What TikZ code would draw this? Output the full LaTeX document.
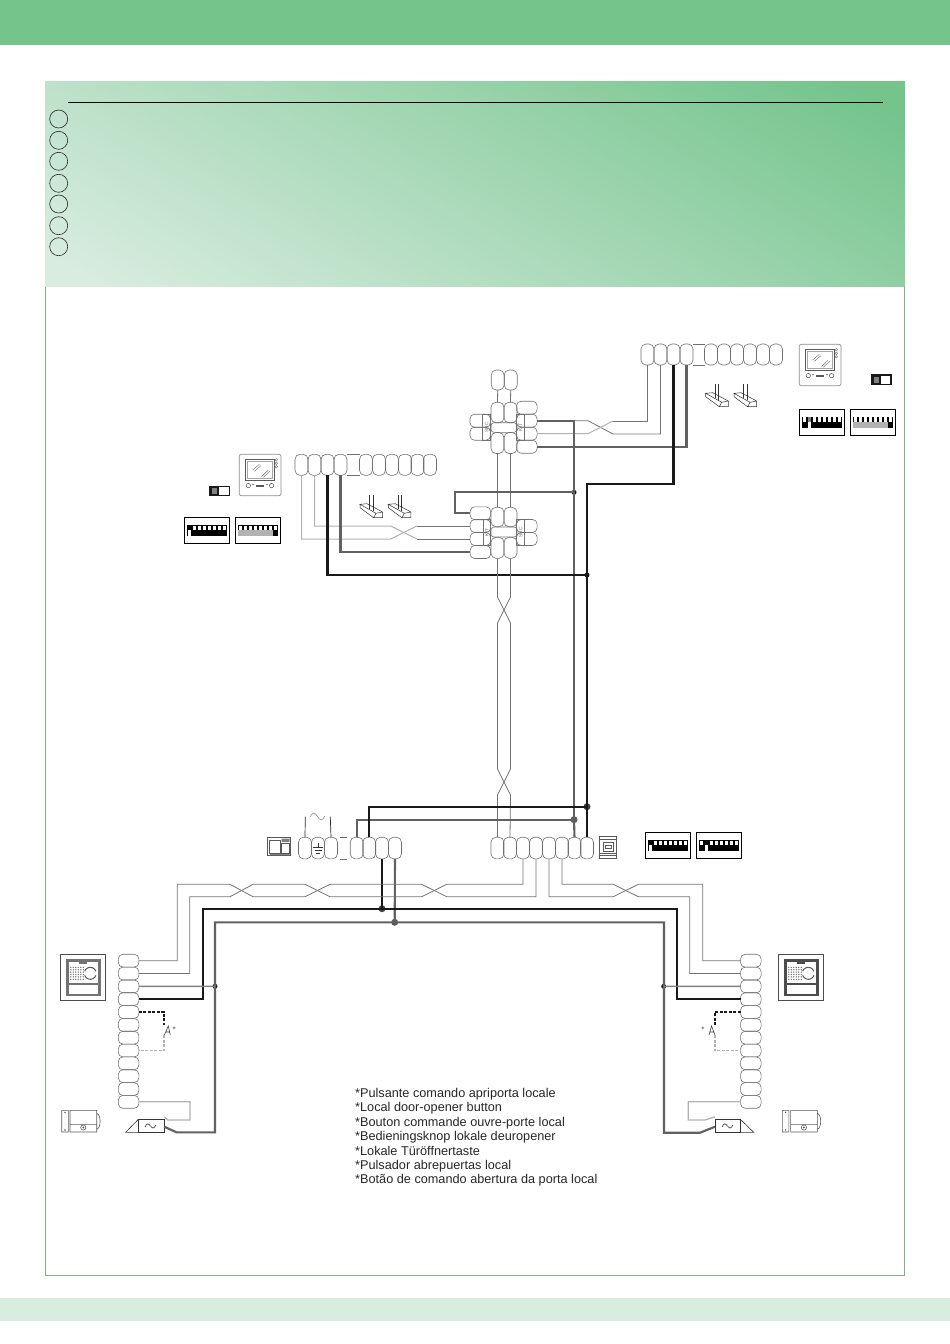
\documentclass[tikz,border=0pt]{standalone}
\usepackage{fontspec}
\setmainfont{Liberation Sans}
\usepackage{tikz}
\definecolor{bandgreen}{HTML}{74C48C}
\definecolor{palegreen}{HTML}{D8ECE0}
\definecolor{framegreen}{HTML}{7FAE90}
\definecolor{clampgray}{HTML}{707070}
\pgfdeclarehorizontalshading{headershade}{100bp}{color(0bp)=(palegreen); color(19bp)=(palegreen); color(81bp)=(bandgreen); color(100bp)=(bandgreen)}
\tikzset{
  clamp/.style={draw=clampgray,rounded corners=5pt,minimum width=13pt,minimum height=21pt,
    inner sep=0pt,outer sep=0pt,line width=.6pt},
  hclamp/.style={clamp,rounded corners=4.5pt,minimum width=20.5pt,minimum height=13pt},
  tag/.style={draw=clampgray,line width=.5pt,inner sep=0pt,outer sep=0pt,minimum width=8pt,
    minimum height=26pt,text=clampgray,font=\fontsize{5}{5}\selectfont},
  wirethin/.style={draw=black!55,line width=.8pt},
  wirelight/.style={draw=black!30,line width=1pt},
  wiremid/.style={draw=black!50,line width=1.4pt},
  wiregray/.style={draw=black!62,line width=2.1pt},
  wireblack/.style={draw=black!90,line width=2.2pt},
  wdot/.style={circle,fill=black!90,inner sep=0pt,outer sep=0pt,minimum size=5pt},
  bigdot/.style={wdot,minimum size=7pt,fill=black!75},
  monitor/.pic={
    \draw[black!45,line width=.7pt,rounded corners=2pt] (0,0) rectangle (41.7,41.4);
    \draw[black!65,line width=.7pt] (5.7,5) rectangle (34.7,25.7);
    \draw[black!35,line width=.5pt] (7.5,7) rectangle (32.9,23.7);
    \draw[black!60,line width=.4pt] (13.3,15.7) -- (20,10) (15,17) -- (21.7,11.3)
      (22.3,22.3) -- (29,15.7) (24,23) -- (30.7,17);
    \foreach \dy in {5.5,9,12.5} \draw[black!60,line width=.4pt] (37,\dy) circle (1.3);
    \draw[black!70,line width=.5pt] (9,31.3) circle (2.2) (32.3,31.3) circle (2.2);
    \fill[black!65] (16.5,30.2) rectangle (25,32.8);
    \fill[black!65] (13.7,30.3) circle (.8) (27.7,30.3) circle (.8);
  },
  jumper/.pic={
    \draw[black!80,line width=.5pt] (0,0) -- (7,-.6) -- (22.6,7.7) -- (16,9) -- cycle
      (0,0) -- (0,3.4) -- (13.6,13.4) -- (22.6,13.4) -- (22.6,7.7) (16,9) -- (13.6,13.4);
    \draw[black!80,line width=.5pt] (9.6,-9.3) -- (9.6,4.7) (13,-9.3) -- (13,6.7);
  },
  slidesw/.pic={
    \fill[black!90] (0,0) rectangle (20.5,10.7);
    \fill[white] (10,1.4) rectangle (19.2,9.3);
    \fill[black!50] (3,2.4) rectangle (8,8.3);
  },
  pics/dipbank/.style={code={
    \draw[black,line width=.9pt] (0,0) rectangle (45.5,26.6);
    \foreach \b [count=\i from 0] in {#1} {
      \pgfmathsetmacro\xs{2.8+5*\i}
      \ifcase\b \def\ct{white}\def\cb{black}\def\bi{0}
      \or \def\ct{black}\def\cb{white}\def\bi{.8}
      \or \def\ct{white}\def\cb{black!30}\def\bi{0}
      \or \def\ct{black!50}\def\cb{white}\def\bi{.8}\fi
      \fill[black] (\xs,7.7) rectangle +(5,11);
      \fill[\ct] (\xs+.7,8.3) rectangle (\xs+4.3,13.2);
      \fill[\cb] (\xs+\bi,13.2) rectangle (\xs+5-\bi,18.7);
    }
  }},
  pics/intercom/.style={code={
    \draw[black!70,line width=.7pt] (0,0) rectangle (45.4,46.4);
    \fill[#1] (5.4,4.6) rectangle (40.6,41.4);
    \fill[white] (8.5,7.8) rectangle (37.5,28.8);
    \fill[white] (8.5,30.2) rectangle (37.5,39.4);
    \fill[#1] (18.5,5) rectangle (26.5,9.5);
    \foreach \gx in {10.5,13,15.5,18,20.5,23} \foreach \gy in {13,15.4,17.8,20.2,22.6,25}
      \fill[black!55] (\gx,\gy) circle (.75);
    \draw[black!65,line width=1pt] (30,19) ++(200:6) arc (200:340:6);
    \draw[black!65,line width=1pt] (30,19) ++(20:6) arc (20:160:6);
  }},
  strike/.pic={
    \draw[black!65,line width=.6pt] (0,0) rectangle (6.6,21.7) (8.3,0) rectangle (35,21.7)
      (8.3,14) -- (35,14) (35,3) .. controls (39.5,4) and (39.5,18) .. (35,19);
    \draw[black!65,line width=.6pt] (21.6,17.2) circle (2.6);
    \fill[black!70] (3.3,2) circle (.8) (3.3,19.7) circle (.8) (21.6,17.2) circle (1);
  },
}
\begin{document}
\begin{tikzpicture}[x=1pt,y=-1pt]
  \useasboundingbox (0,0) rectangle (950,1344);
  % page furniture
  \fill[bandgreen] (0,0) rectangle (950,45);
  \fill[palegreen] (0,1298) rectangle (950,1321);
  \draw[framegreen,line width=.8pt] (45,286) rectangle (904.6,1275.5);
  \shade[shading=headershade,shading angle=60] (45,81) rectangle (905,286);
  \coordinate (ruleL) at (68,102.5);
  \coordinate (ruleR) at (883,102.5);
  \draw[black,line width=.9pt] (ruleL) -- (ruleR);
  \foreach \n/\y in {1/119,2/140.3,3/161.3,4/183.3,5/204,6/225.7,7/246.7}
    \node[circle,draw=black!85,line width=.6pt,minimum size=18pt,inner sep=0pt] (num\n) at (58.7,\y) {};
  %
  % upper flat terminal strip
  \foreach \n/\x in {1/647.5,2/660.5,3/673.5,4/686.5,5/711,6/724,7/737,8/750,9/763,10/776}
    \node[clamp] (rt\n) at (\x,354.5) {};
  \draw[clampgray,line width=.5pt] (rt4.north east) -- (rt5.north west) (rt4.south east) -- (rt5.south west);
  % lower flat terminal strip
  \foreach \n/\x in {1/301.5,2/314.5,3/327.5,4/340.5,5/366,6/379,7/392,8/405,9/417.5,10/430}
    \node[clamp] (lt\n) at (\x,464.8) {};
  \draw[clampgray,line width=.5pt] (lt4.north east) -- (lt5.north west) (lt4.south east) -- (lt5.south west);
  %
  % upper distributor
  \node[clamp,minimum height=20pt] (tp1) at (497.7,380) {};
  \node[clamp,minimum height=20pt] (tp2) at (510.7,380) {};
  \node[clamp,minimum height=20.5pt] (mt1) at (497.5,412.5) {};
  \node[clamp,minimum height=20.5pt] (mt2) at (510.5,412.5) {};
  \node[clamp] (mb1) at (497.5,443) {};
  \node[clamp] (mb2) at (510.5,443) {};
  \node[clamp,minimum width=26pt,minimum height=9.6pt,rounded corners=3pt] (mm) at (504,427.5) {};
  \foreach \n/\y in {1/407.7,2/420.7,3/433.7,4/446.7}
    \node[hclamp] (kr\n) at (526.8,\y) {};
  \foreach \n/\y in {1/420.7,2/433.7}
    \node[hclamp] (sl\n) at (480.2,\y) {};
  \node[tag,minimum width=7.4pt] (kitt) at (520.4,427.2) {\rotatebox{90}{KIT}};
  \node[tag] (sbct) at (486.7,427.2) {\rotatebox{90}{SBC}};
  %
  % lower distributor
  \node[clamp,minimum height=19.5pt] (nt1) at (497.5,517) {};
  \node[clamp,minimum height=19.5pt] (nt2) at (510.5,517) {};
  \node[clamp] (nb1) at (497.5,547.8) {};
  \node[clamp] (nb2) at (510.5,547.8) {};
  \node[clamp,minimum width=26pt,minimum height=10pt,rounded corners=3pt] (nm) at (504,532) {};
  \foreach \n/\y in {1/513.3,2/526,3/539,4/552}
    \node[hclamp] (kb\n) at (480.4,\y) {};
  \foreach \n/\y in {1/526,2/539}
    \node[hclamp] (sr\n) at (526.8,\y) {};
  \node[tag,minimum width=7.4pt] (kittb) at (486.8,532.4) {\rotatebox{90}{KIT}};
  \node[tag] (sbctb) at (520.6,532.4) {\rotatebox{90}{SBC}};
  %
  % base terminal strips
  \foreach \n/\x in {1/305,2/318,3/331,4/356.7,5/369.2,6/382,7/395}
    \node[clamp,minimum height=21.6pt] (lb\n) at (\x,848) {};
  \foreach \n/\x in {1/497.5,2/510,3/523,4/536,5/549,6/562,7/574.5,8/587}
    \node[clamp,minimum height=21.6pt] (rb\n) at (\x,848) {};
  \draw[clampgray,line width=.5pt] (340,837.2) -- (347,837.2) (340,858.8) -- (347,858.8);
  \coordinate (acL) at (305.3,816.7);
  \coordinate (acR) at (330.3,816.7);
  \draw[black!85,line width=.7pt] (lb1.north) -- (acL) (lb3.north) -- (acR);
  \draw[black!50,line width=.5pt] (310,817) sin (313.7,813) cos (317.5,816.5) sin (321.2,820) cos (325,816);
  % earth
  \draw[black!80,line width=.5pt] (318,843) -- (318,847) (313,847) -- (323,847) (314.5,850) -- (321.5,850) (316,852.8) -- (320,852.8);
  %
  % door panel terminals
  \foreach \n in {1,...,12} {
    \pgfmathsetmacro\yy{960.7+12.83*(\n-1)}
    \node[hclamp,minimum height=12.83pt] (lc\n) at (128.6,\yy) {};
    \node[hclamp,minimum height=12.83pt] (rc\n) at (750.8,\yy) {};
  }
  %
  % joints
  \node[wdot] (d1) at (574,492.3) {};
  \node[wdot] (d2) at (587,575) {};
  \node[bigdot] (d3) at (587,806.7) {};
  \node[bigdot,fill=black!65] (d4) at (574,819.7) {};
  \node[bigdot] (d5) at (382,908.7) {};
  \node[bigdot,fill=black!65] (d6) at (394.7,922.3) {};
  \node[wdot] (d7) at (215,986.3) {};
  \node[wdot] (d8) at (663.7,986.3) {};
  %
  % door lock boxes
  \node[draw=black!80,line width=.6pt,minimum width=26pt,minimum height=13pt,inner sep=0pt,outer sep=0pt] (lk1) at (151.3,1125.8) {};
  \node[draw=black!80,line width=.6pt,minimum width=25.3pt,minimum height=13pt,inner sep=0pt,outer sep=0pt] (lk2) at (727.7,1125.8) {};
  \draw[black!80,line width=.6pt] (lk1.north west) -- (125.7,1132.3) -- (lk1.south west);
  \draw[black!80,line width=.6pt] (lk2.north east) -- (753.7,1132.3) -- (lk2.south east);
  \draw[black!80,line width=.6pt] (145,1127) sin (147.7,1123.8) cos (150.5,1126) sin (153.2,1128) cos (156,1125);
  \draw[black!80,line width=.6pt] (722,1127) sin (724.7,1123.8) cos (727.5,1126) sin (730.2,1128) cos (733,1125);
  %
  % wires, upper level
  \draw[wirethin] (tp1.south) -- (mt1.north) (tp2.south) -- (mt2.north);
  \draw[wirethin] (mb1.south) -- (nt1.north) (mb2.south) -- (nt2.north);
  \draw[wirethin] (kr2.east) -- (588,420.7) -- (613,434) -| (rt2.south);
  \draw[wirelight] (kr3.east) -- (588,433.7) -- (613,421);
  \draw[wirethin] (613,421) -| (rt1.south);
  \draw[wiregray] (kr4.east) -| (rt4.south);
  \draw[wiregray] (kr2.east) -| (d4.center);
  \draw[wiregray] (d4.center) -- (rb7.north);
  \draw[wireblack] (rt3.south) |- (587,484.3) -- (d3.center);
  \draw[wireblack] (d3.center) -- (rb8.north);
  \draw[wiregray] (d1.center) -| (455,513.3) -- (kb1.west);
  %
  % wires, lower level
  \draw[wirelight] (lt1.south) |- (390.7,539) -- (416.7,526);
  \draw[wirethin] (416.7,526) -- (kb2.west);
  \draw[wirelight] (lt2.south) |- (390.7,526) -- (416.7,539);
  \draw[wirethin] (416.7,539) -- (kb3.west);
  \draw[wiregray] (lt4.south) |- (kb4.west);
  \draw[wireblack] (lt3.south) |- (d2.center);
  %
  % riser
  \draw[wirethin] (nb1.south) -- (497.5,597) -- (510.5,623) -- (510.5,769) -- (497.5,795) -- (rb1.north);
  \draw[wirethin] (nb2.south) -- (510.5,597) -- (497.5,623) -- (497.5,769) -- (510.5,795) -- (rb2.north);
  %
  % base to riser
  \draw[wiregray] (lb4.north) |- (d4.center);
  \draw[wireblack] (lb5.north) |- (d3.center);
  \draw[wireblack] (lb6.south) -- (d5.center);
  \draw[wiregray] (lb7.south) -- (d6.center);
  %
  % base to door panels
  \draw[wirethin] (rb3.south) |- (446.7,884.3) -- (421.7,896.7) -- (330,896.7) -- (305,884.3) -- (253,884.3) -- (230,896.7) -- (189.7,896.7) |- (lc2.east);
  \draw[wirethin] (rb4.south) |- (446.7,896.7) -- (421.7,884.3) -- (330,884.3) -- (305,896.7) -- (253,896.7) -- (230,884.3) -- (177.3,884.3) |- (lc1.east);
  \draw[wirethin] (rb5.south) |- (613.3,896.7) -- (638.3,884.3) -- (702.7,884.3) |- (rc1.west);
  \draw[wirethin] (rb6.south) |- (613.3,884.3) -- (638.3,896.7) -- (689.7,896.7) |- (rc2.west);
  \draw[wireblack] (lc4.east) -| (203.3,908.7) -- (676.7,908.7) |- (rc4.west);
  \draw[wiregray] (lk1.east) ++(0,.9) -- (176.7,1132.4) -| (215,922.3) -- (664,922.3) |- (700,1132.7) -- ([yshift=-.9pt]lk2.west);
  \draw[wiremid] (lc3.east) -- (d7.center);
  \draw[wiremid] (rc3.west) -- (d8.center);
  \draw[wirelight,line width=1.3pt] (lc12.east) -| (190,1120) -- (168,1120) -- ([yshift=2.5pt]lk1.north east);
  \draw[wirelight,line width=1.3pt] (rc12.west) -| (688.3,1120) -- (705,1120) -- ([yshift=2.5pt]lk2.north west);
  %
  % local door-opener buttons
  \coordinate (swLt) at (164,1025);
  \coordinate (swLb) at (164,1035);
  \coordinate (swRt) at (715,1025);
  \coordinate (swRb) at (715,1035);
  \draw[wireblack,dash pattern=on 3pt off 1.5pt] (lc5.east) -| (swLt);
  \draw[wirelight,line width=1.3pt,dash pattern=on 3pt off 1.5pt] (swLb) |- (lc8.east);
  \draw[wireblack,dash pattern=on 3pt off 1.5pt] (rc5.west) -| (swRt);
  \draw[wirelight,line width=1.3pt,dash pattern=on 3pt off 1.5pt] (swRb) |- (rc8.west);
  \draw[black!75,line width=.6pt] (164.3,1035) -- (168.3,1026) -- (170.3,1035) (165.5,1032) -- (169.6,1032);
  \draw[black!75,line width=.6pt] (715,1035) -- (711.5,1026) -- (709,1035) (710,1032) -- (714,1032);
  \node[font=\fontsize{8}{8}\selectfont,text=black!70,inner sep=0pt] (astL) at (174.2,1029.5) {*};
  \node[font=\fontsize{8}{8}\selectfont,text=black!70,inner sep=0pt] (astR) at (703,1029.5) {*};
  %
  % devices
  \pic at (799.3,344.3) {monitor};
  \pic at (239.3,454.3) {monitor};
  \pic at (705.7,393.3) {jumper};
  \pic at (734,393.3) {jumper};
  \pic at (360,504.3) {jumper};
  \pic at (388.3,504.3) {jumper};
  \pic at (871,374.3) {slidesw};
  \pic at (209.3,485.6) {slidesw};
  \pic at (799.2,409) {dipbank={0,3,0,0,0,0,0,0}};
  \pic at (850.2,409) {dipbank={2,2,2,2,2,2,2,0}};
  \pic at (184.3,517.2) {dipbank={1,0,0,0,0,0,0,0}};
  \pic at (235.3,517.2) {dipbank={2,2,2,2,2,2,2,0}};
  \pic at (645.3,832.2) {dipbank={1,0,0,0,0,0,0,0}};
  \pic at (696.3,832.2) {dipbank={0,1,0,0,0,0,0,0}};
  \pic at (60.3,954.3) {intercom=black!55};
  \pic at (778.3,954.3) {intercom=black!70};
  \pic at (61.7,1110.3) {strike};
  \pic at (782.3,1110.3) {strike};
  %
  % power supply and control unit
  \draw[black!65,line width=.7pt] (267.3,837.3) rectangle (290.7,855.7) (269.5,840) rectangle (280,853) (281.5,843) rectangle (289.5,853);
  \fill[black!50] (281.5,838.5) rectangle (289.5,842) (270,854) rectangle (289.5,855);
  \draw[black!65,line width=.7pt] (599.3,836) rectangle (616.7,858.3) (603,842.5) rectangle (613,851) (605,845.5) rectangle (611,848) (599.3,839.5) -- (616.7,839.5) (599.3,853) -- (616.7,853) (599.3,855.5) -- (616.7,855.5);
  %
  \node[anchor=north west,align=left,inner sep=0pt,text=black!85,font=\fontsize{12.7}{14.4}\selectfont] (notes) at (355,1088) {*Pulsante comando apriporta locale\\
    *Local door-opener button\\
    *Bouton commande ouvre-porte local\\
    *Bedieningsknop lokale deuropener\\
    *Lokale Türöffnertaste\\
    *Pulsador abrepuertas local\\
    *Botão de comando abertura da porta local};
\end{tikzpicture}
\end{document}
